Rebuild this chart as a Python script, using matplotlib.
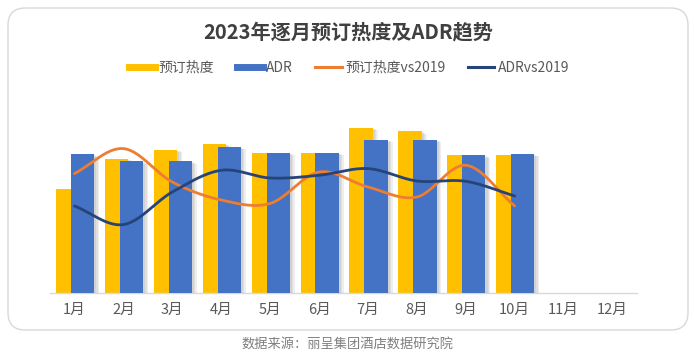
import numpy as np
import matplotlib
matplotlib.use("Agg")
import matplotlib.pyplot as plt
from matplotlib.patches import FancyBboxPatch
from matplotlib.lines import Line2D
import matplotlib.patheffects as pe

plt.rcParams['font.family'] = ['Noto Sans CJK SC', 'DejaVu Sans']

# ---- data (relative units) ----
months = ['1月', '2月', '3月', '4月', '5月', '6月', '7月', '8月', '9月', '10月', '11月', '12月']
booking_heat = [104.4, 134.4, 143.4, 149.4, 140.4, 140.4, 165.4, 161.7, 137.7, 137.7]
adr = [138.7, 131.7, 131.7, 146.0, 140.4, 140.4, 153.4, 153.4, 137.7, 139.0]
booking_vs2019 = [119.4, 144.4, 111.0, 93.0, 89.5, 121.0, 106.0, 96.0, 127.7, 87.0]
adr_vs2019 = [87.0, 68.4, 101.0, 122.7, 115.0, 117.7, 124.4, 112.0, 111.7, 97.0]

series_names = ['预订热度', 'ADR', '预订热度vs2019', 'ADRvs2019']
title = '2023年逐月预订热度及ADR趋势'
source = '数据来源：丽呈集团酒店数据研究院'

C_YEL = '#FFC000'
C_BLU = '#4472C4'
C_ORA = '#ED7D31'
C_NAV = '#264478'


def catmull_rom(x, y, n=30):
    x = np.asarray(x, float)
    y = np.asarray(y, float)
    px = np.concatenate([[2 * x[0] - x[1]], x, [2 * x[-1] - x[-2]]])
    py = np.concatenate([[2 * y[0] - y[1]], y, [2 * y[-1] - y[-2]]])
    xs, ys = [], []
    for i in range(1, len(px) - 2):
        t = np.linspace(0, 1, n, endpoint=False)
        for P, out in ((px, xs), (py, ys)):
            p0, p1, p2, p3 = P[i - 1], P[i], P[i + 1], P[i + 2]
            out.extend(0.5 * ((2 * p1) + (-p0 + p2) * t +
                              (2 * p0 - 5 * p1 + 4 * p2 - p3) * t ** 2 +
                              (-p0 + 3 * p1 - 3 * p2 + p3) * t ** 3))
    xs.append(x[-1]); ys.append(y[-1])
    return np.array(xs), np.array(ys)


W, H = 694, 355
fig = plt.figure(figsize=(W / 100, H / 100), dpi=100)

# rounded frame
frame = FancyBboxPatch((8 / W, 25 / H), 680 / W, 322 / H,
                       boxstyle="round,pad=0,rounding_size=0.025",
                       transform=fig.transFigure, facecolor='none',
                       edgecolor='#D9D9D9', linewidth=1.0, zorder=-5,
                       mutation_aspect=W / H)
fig.patches.append(frame)

ax = fig.add_axes([50 / W, (H - 293) / H, 587 / W, 183 / H])
ax.set_facecolor('none')
ax.set_xlim(-0.5, 11.5)
ax.set_ylim(0, 183)

x = np.arange(len(booking_heat))
w = 0.475
shadow = [pe.SimplePatchShadow(offset=(o, -0.5 * o), shadow_rgbFace='#7F7F7F', alpha=0.13)
          for o in (3.5, 2.5, 1.5)] + [pe.Normal()]
b1 = ax.bar(x - 0.14, booking_heat, width=w, color=C_YEL, zorder=2)
b2 = ax.bar(x + 0.165, adr, width=w, color=C_BLU, zorder=3)
for b in list(b1) + list(b2):
    b.set_path_effects(shadow)

sx, sy = catmull_rom(x, booking_vs2019)
ax.plot(sx, sy, color=C_ORA, lw=2.0, zorder=5, solid_capstyle='round')
sx, sy = catmull_rom(x, adr_vs2019)
ax.plot(sx, sy, color=C_NAV, lw=2.0, zorder=5, solid_capstyle='round')

ax.set_xticks(np.arange(len(months)))
ax.set_xticklabels(months, fontsize=10.5, color='#595959')
ax.tick_params(axis='x', length=0, pad=7)
ax.set_yticks([])
for s in ['top', 'right', 'left']:
    ax.spines[s].set_visible(False)
ax.spines['bottom'].set_color('#D9D9D9')
ax.spines['bottom'].set_linewidth(1.0)

fig.text(348 / W, 1 - 32 / H, title, ha='center', va='center',
         fontsize=14.5, fontweight='bold', color='#404040')

handles = [Line2D([], [], color=C_YEL, lw=5),
           Line2D([], [], color=C_BLU, lw=5),
           Line2D([], [], color=C_ORA, lw=2.2),
           Line2D([], [], color=C_NAV, lw=2.2)]
fig.legend(handles, series_names, loc='center', bbox_to_anchor=(349 / W, 1 - 68 / H),
           ncol=4, frameon=False, fontsize=10, labelcolor='#595959',
           handlelength=1.9, handletextpad=0.25, columnspacing=1.6)

fig.text(347 / W, 1 - 345 / H, source, ha='center', va='center',
         fontsize=9.5, color='#7F7F7F')

fig.savefig('out.png', dpi=100)
